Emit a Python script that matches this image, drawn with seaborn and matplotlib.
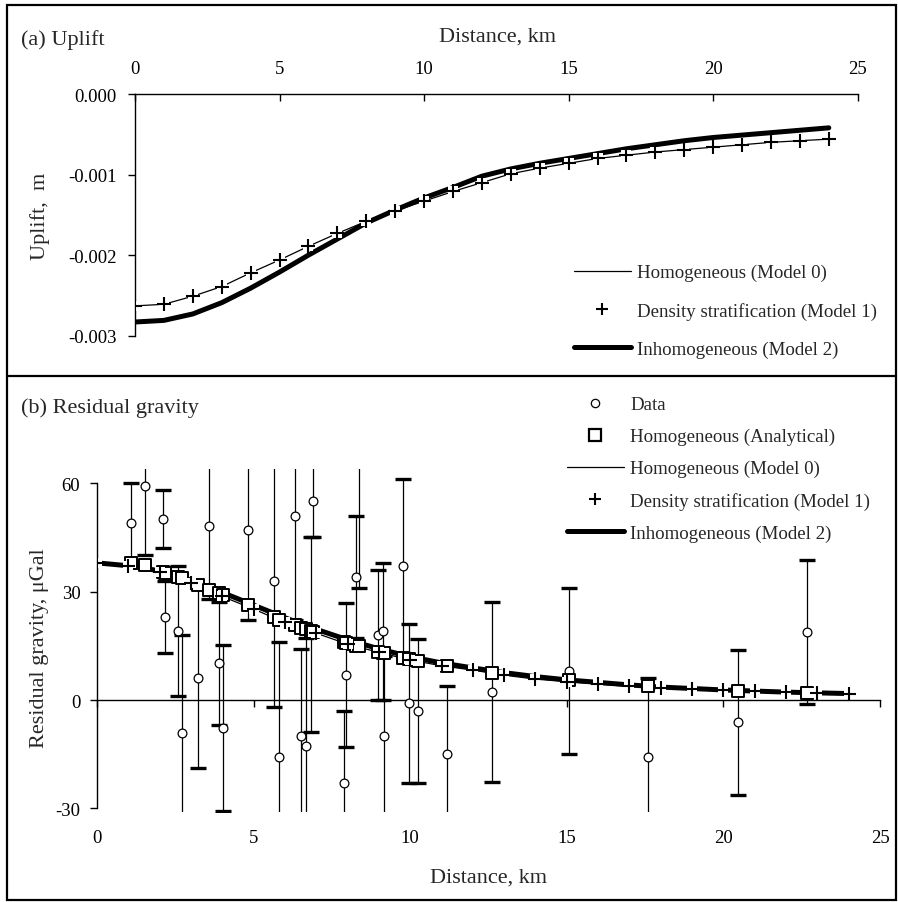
import matplotlib
matplotlib.use("Agg")
import matplotlib.pyplot as plt
import seaborn as sns
import pandas as pd
from matplotlib.lines import Line2D
from matplotlib.patches import Rectangle

# ---------------- data ----------------
dist_km = list(range(25))

uplift_model0 = [-0.00263, -0.00261, -0.00251, -0.00239, -0.00222, -0.00206, -0.00189,
                 -0.00173, -0.00158, -0.00145, -0.00133, -0.00121, -0.00110, -0.00099,
                 -0.00092, -0.00086, -0.00080, -0.00076, -0.00072, -0.00069, -0.00066,
                 -0.00063, -0.00060, -0.00058, -0.00056]
uplift_model1 = [-0.00263, -0.00261, -0.00251, -0.00239, -0.00222, -0.00206, -0.00189,
                 -0.00173, -0.00158, -0.00145, -0.00133, -0.00121, -0.00110, -0.00099,
                 -0.00092, -0.00086, -0.00080, -0.00076, -0.00072, -0.00069, -0.00066,
                 -0.00063, -0.00060, -0.00058, -0.00056]
uplift_model2 = [-0.00283, -0.00281, -0.00273, -0.00259, -0.00241, -0.00221, -0.00200,
                 -0.00180, -0.00160, -0.00144, -0.00129, -0.00116, -0.00102, -0.00093,
                 -0.00086, -0.00080, -0.00074, -0.00068, -0.00063, -0.00058, -0.00054,
                 -0.00051, -0.00048, -0.00045, -0.00042]

grav_model0 = [37.9, 37.0, 35.4, 32.3, 28.7, 25.2, 21.5, 18.5, 15.5, 13.2, 11.1, 9.5, 8.3,
               6.9, 5.8, 5.1, 4.4, 3.8, 3.3, 3.0, 2.8, 2.5, 2.2, 1.9, 1.7]
grav_model1 = [37.9, 37.0, 35.4, 32.3, 28.7, 25.2, 21.5, 18.5, 15.5, 13.2, 11.1, 9.5, 8.3,
               6.9, 5.8, 5.1, 4.4, 3.8, 3.3, 3.0, 2.8, 2.5, 2.2, 1.9, 1.7]
grav_model2 = [38.0, 37.2, 35.8, 33.2, 29.8, 26.3, 22.8, 19.6, 16.7, 14.2, 12.0, 10.3, 8.9,
               7.6, 6.5, 5.6, 4.9, 4.2, 3.6, 3.2, 2.8, 2.5, 2.2, 2.0, 1.8]

data_x = [1.08, 1.53, 2.12, 2.17, 2.60, 2.72, 3.24, 3.59, 3.90, 4.01, 4.83, 5.65, 5.81,
          6.31, 6.50, 6.66, 6.84, 6.91, 7.90, 7.95, 8.27, 8.35, 8.98, 9.14, 9.17, 9.76,
          9.96, 10.26, 11.16, 12.62, 15.08, 17.60, 20.46, 22.66]
data_y = [49.0, 59.2, 50.1, 23.1, 19.0, -9.0, 6.1, 48.1, 10.2, -7.8, 47.1, 33.0, -15.9,
          51.1, -9.9, -12.8, 18.2, 55.2, -23.0, 7.0, 34.1, 72.0, 18.1, 19.0, -9.9, 37.1,
          -0.9, -3.0, -15.0, 2.3, 8.1, -15.9, -6.2, 18.9]
data_err = [11, 19, 8, 10, 18, 27, 25, 20, 17, 23, 25, 35, 32,
            29, 24, 30, 27, 10, 20, 20, 17, 41, 18, 19, 22, 24,
            22, 20, 19, 25, 23, 22, 20, 20]
analytic_y = [38.0, 37.3, 35.5, 35.3, 34.2, 33.8, 31.8, 30.6, 29.6, 29.0, 26.2, 22.9, 22.3,
              20.7, 20.1, 19.6, 19.1, 18.8, 16.0, 15.9, 15.1, 14.9, 13.4, 13.0, 12.9, 11.7,
              11.3, 10.8, 9.4, 7.6, 5.6, 3.8, 2.6, 1.9]

x_ticks = [0, 5, 10, 15, 20, 25]
x_ticklabels = ["0", "5", "10", "15", "20", "25"]
uplift_ticks = [0.0, -0.001, -0.002, -0.003]
uplift_ticklabels = ["0.000", "-0.001", "-0.002", "-0.003"]
grav_ticks = [-30, 0, 30, 60]
grav_ticklabels = ["-30", "0", "30", "60"]

lab_m0 = "Homogeneous (Model 0)"
lab_m1 = "Density stratification (Model 1)"
lab_m2 = "Inhomogeneous (Model 2)"
lab_data = "Data"
lab_an = "Homogeneous (Analytical)"

# ---------------- style ----------------
sns.set_theme(style="white")
plt.rcParams["font.family"] = ["Liberation Serif", "DejaVu Serif"]
plt.rcParams["axes.unicode_minus"] = False

W, H = 898, 903
fig = plt.figure(figsize=(W / 100, H / 100), dpi=100)
fig.patch.set_facecolor("white")


def fx(px):
    return px / W


def fy(py):
    return 1 - py / H


TICK_FS = 13.5
TITLE_FS = 16
LEG_FS = 13.6

thin_lw = 0.9
thick_lw = 3.6

# ---------------- top panel ----------------
ax1 = fig.add_axes([fx(135), fy(336.7), (857.7 - 135) / W, (336.7 - 95) / H])
ax1.set_facecolor("none")
dfu = pd.DataFrame({"x": dist_km, "m0": uplift_model0, "m1": uplift_model1, "m2": uplift_model2})
sns.lineplot(data=dfu, x="x", y="m0", ax=ax1, color="black", lw=thin_lw, zorder=3)
sns.lineplot(data=dfu, x="x", y="m2", ax=ax1, color="black", lw=thick_lw, zorder=4)
sns.scatterplot(data=dfu, x="x", y="m1", ax=ax1, marker="s", s=55, color="white",
                linewidth=0, zorder=5)
sns.scatterplot(data=dfu, x="x", y="m1", ax=ax1, marker="+", s=90, color="black",
                linewidth=1.5, zorder=6)
ax1.set_xlim(0, 25)
ax1.set_ylim(-0.003, 0)
for s in ["bottom", "right"]:
    ax1.spines[s].set_visible(False)
for s in ["top", "left"]:
    ax1.spines[s].set_color("black")
    ax1.spines[s].set_linewidth(1.0)
ax1.xaxis.set_ticks_position("top")
ax1.set_xticks(x_ticks)
ax1.set_xticklabels(x_ticklabels)
ax1.set_yticks(uplift_ticks)
ax1.set_yticklabels(uplift_ticklabels)
ax1.tick_params(axis="x", direction="in", length=5, width=1, pad=12, labelsize=TICK_FS,
                colors="black", top=True, bottom=False)
ax1.tick_params(axis="y", direction="out", length=5, width=1, pad=8, labelsize=TICK_FS,
                colors="black", left=True)
ax1.set_xlabel("")
ax1.set_ylabel("")
ax1.grid(False)

h_m0 = Line2D([], [], color="black", lw=thin_lw)
h_m1 = Line2D([], [], color="black", ls="none", marker="+", ms=9, mew=1.5)
h_m2 = Line2D([], [], color="black", lw=thick_lw)
leg1 = ax1.legend([h_m0, h_m1, h_m2], [lab_m0, lab_m1, lab_m2], loc="upper left",
                  bbox_to_anchor=(fx(574), fy(265)), bbox_transform=fig.transFigure,
                  frameon=False, fontsize=LEG_FS, handlelength=3.0, handletextpad=0.35,
                  labelspacing=1.1, borderpad=0, borderaxespad=0)

# ---------------- bottom panel ----------------
ax2 = fig.add_axes([fx(97), fy(813), (880 - 97) / W, (813 - 470) / H])
ax2.set_facecolor("none")
ax2.errorbar(data_x, data_y, yerr=data_err, fmt="none", ecolor="black", elinewidth=0.9,
             capsize=6, capthick=2.4, zorder=2)
dfd = pd.DataFrame({"x": data_x, "y": data_y, "a": analytic_y})
sns.scatterplot(data=dfd, x="x", y="y", ax=ax2, marker="o", s=40, facecolor="white",
                edgecolor="black", linewidth=0.9, zorder=3)
dfg = pd.DataFrame({"x": dist_km, "m0": grav_model0, "m1": grav_model1, "m2": grav_model2})
sns.lineplot(data=dfg, x="x", y="m0", ax=ax2, color="black", lw=thin_lw, zorder=4)
sns.lineplot(data=dfg, x="x", y="m2", ax=ax2, color="black", lw=thick_lw, zorder=5)
sns.scatterplot(data=dfd, x="x", y="a", ax=ax2, marker="s", s=85, facecolor="white",
                edgecolor="black", linewidth=1.4, zorder=6)
sns.scatterplot(data=dfg, x="x", y="m1", ax=ax2, marker="s", s=60, color="white",
                linewidth=0, zorder=7)
sns.scatterplot(data=dfg, x="x", y="m1", ax=ax2, marker="+", s=90, color="black",
                linewidth=1.5, zorder=8)
ax2.set_xlim(0, 25)
ax2.set_ylim(-31, 64)
for s in ["top", "right"]:
    ax2.spines[s].set_visible(False)
ax2.spines["bottom"].set_position(("data", 0))
ax2.spines["bottom"].set_bounds(0, 25)
ax2.spines["left"].set_bounds(-30, 60)
for s in ["bottom", "left"]:
    ax2.spines[s].set_color("black")
    ax2.spines[s].set_linewidth(1.0)
    ax2.spines[s].set_zorder(1)
ax2.set_xticks(x_ticks)
ax2.set_xticklabels(x_ticklabels)
ax2.set_yticks(grav_ticks)
ax2.set_yticklabels(grav_ticklabels)
ax2.tick_params(axis="x", direction="out", length=5, width=1, pad=88, labelsize=TICK_FS,
                colors="black", bottom=True)
ax2.tick_params(axis="y", direction="out", length=5, width=1, pad=7, labelsize=TICK_FS,
                colors="black", left=True)
ax2.set_xlabel("")
ax2.set_ylabel("")
ax2.grid(False)

h_data = Line2D([], [], color="black", ls="none", marker="o", ms=6, mfc="white", mew=0.9)
h_an = Line2D([], [], color="black", ls="none", marker="s", ms=8, mfc="white", mew=1.6)
leg2 = ax2.legend([h_data, h_an, h_m0, h_m1, h_m2],
                  [lab_data, lab_an, lab_m0, lab_m1, lab_m2], loc="upper left",
                  bbox_to_anchor=(fx(567), fy(397)), bbox_transform=fig.transFigure,
                  frameon=False, fontsize=LEG_FS, handlelength=3.0, handletextpad=0.35,
                  labelspacing=0.78, borderpad=0, borderaxespad=0)

# ---------------- texts ----------------
fig.text(fx(21), fy(40), "(a) Uplift", fontsize=TITLE_FS, ha="left", va="center")
fig.text(fx(497), fy(37), "Distance, km", fontsize=TITLE_FS, ha="center", va="center")
fig.text(fx(40), fy(216), "Uplift,  m", fontsize=TITLE_FS, ha="center", va="center",
         rotation=90)
fig.text(fx(21), fy(408), "(b) Residual gravity", fontsize=TITLE_FS, ha="left", va="center")
fig.text(fx(40), fy(648), "Residual gravity, \u03bcGal", fontsize=TITLE_FS, ha="center",
         va="center", rotation=90)
fig.text(fx(489), fy(878), "Distance, km", fontsize=TITLE_FS, ha="center", va="center")

# ---------------- frame ----------------
fig.add_artist(Rectangle((fx(7), fy(901)), (896 - 7) / W, (901 - 6) / H,
                         transform=fig.transFigure, fill=False, ec="black", lw=1.6))
fig.add_artist(Line2D([fx(7), fx(896)], [fy(377), fy(377)], transform=fig.transFigure,
                      color="black", lw=1.6))

fig.savefig("out.png", dpi=100, facecolor="white")
